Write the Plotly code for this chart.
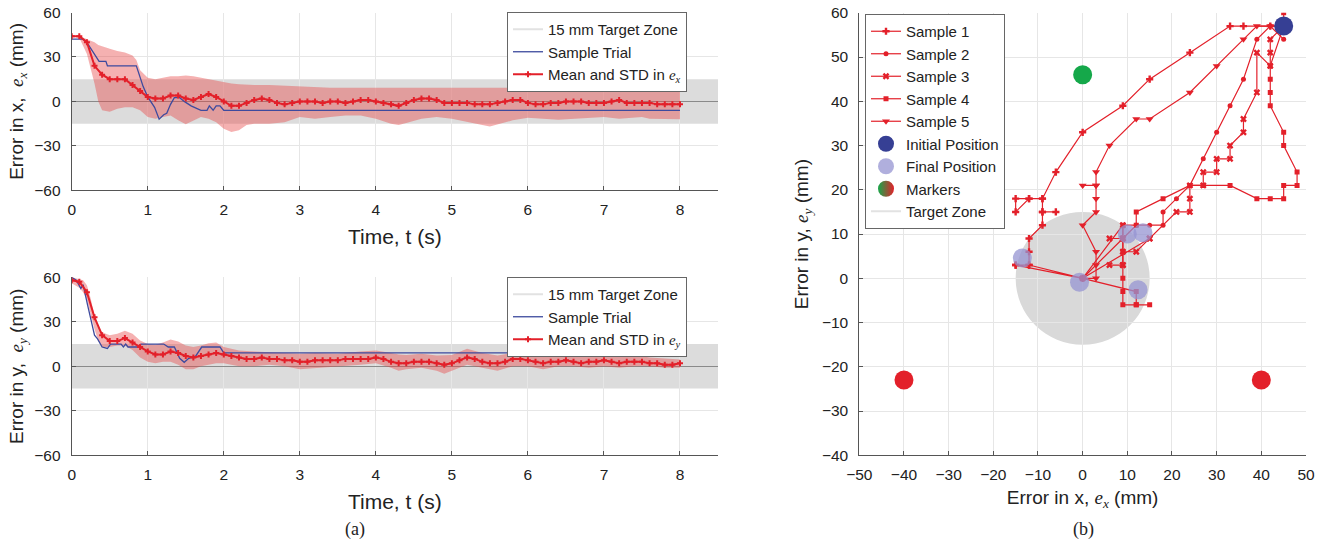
import plotly.graph_objects as go

W, H = 1334, 544

# ---------------- data: panel (a) ----------------
t_mean = [round(i * 0.1, 1) for i in range(81)]
mean_ex = [44, 44, 40, 24, 18, 15, 15, 15, 11, 7,
           3, 2, 2, 4, 4, 2, 1, 3, 5, 3,
           0, -3, -3, -1, 1, 2, 1, -1, -2, -1,
           0, 0, 0, -1, 0, 0, -1, 0, 1, 1,
           0, -1, -2, -3, -1, 1, 2, 2, 1, -1,
           -1, -1, -1, -2, -2, -2, -1, 0, 1, 1,
           -1, -2, -2, -1, -1, 0, 0, 0, -1, -1,
           -1, 0, 1, -1, -1, -1, -1, -2, -2, -2,
           -2]
mean_ey = [58, 57, 50, 33, 21, 17, 17, 19, 16, 13,
           10, 8, 8, 10, 9, 7, 6, 7, 8, 9,
           8, 7, 6, 5, 5, 6, 5, 5, 4, 4,
           3, 3, 4, 4, 4, 4, 5, 5, 5, 5,
           6, 5, 3, 2, 2, 3, 3, 3, 2, 1,
           2, 4, 6, 5, 3, 2, 2, 3, 5, 5,
           4, 3, 2, 3, 3, 4, 3, 2, 3, 3,
           4, 3, 2, 3, 3, 3, 2, 2, 1, 1,
           2]

t_band_x = [0, 0.1, 0.2, 0.3, 0.35, 0.4, 0.5, 0.6, 0.7, 0.8, 0.85, 0.9, 1.0, 1.1, 1.2, 1.3, 1.4,
            1.5, 1.6, 1.7, 1.8, 1.9, 2.0, 2.1, 2.2, 2.3, 2.4, 2.6, 2.8, 3.0, 3.2, 3.4, 3.6,
            3.8, 4.0, 4.2, 4.3, 4.4, 4.6, 4.8, 5.0, 5.2, 5.4, 5.5, 5.6, 5.8, 6.0, 6.2, 6.4,
            6.6, 6.8, 7.0, 7.2, 7.4, 7.5, 7.6, 7.8, 8.0]
upper_ex = [44, 44.5, 42, 40, 38, 37, 35.5, 34, 33, 31, 28, 21, 16, 15, 16, 17, 17,
            17.5, 17, 16, 14.6, 14, 13, 12, 11.5, 11.2, 11, 11, 10.5, 9.7, 9.5, 9.2, 9.2,
            9.2, 9.2, 9.5, 9.7, 9.7, 9.7, 9.5, 9.2, 9.2, 9.2, 9.2, 9.2, 9.2, 9.2, 9.5, 9.7,
            9.7, 9.7, 9.7, 9.5, 9.2, 9, 8, 7, 6.3]
lower_ex = [44, 43, 32, 12, 0, -6, -7, -5, -4, -4, -5, -6, -10.5, -11.7, -10.5, -9.5, -12.8,
            -15.5, -13, -10.5, -11.7, -14, -18.4, -20.7, -19.5, -16, -15, -15, -14, -10.5, -11.7, -10.5, -9.5,
            -9.5, -11.7, -15, -16, -14.6, -11.7, -10.5, -11.7, -14, -16, -17, -15.5, -12.8, -11, -11.7, -12.4,
            -11.7, -11, -10.5, -11.7, -11, -10.5, -11.7, -11.7, -12]

t_band_y = [0, 0.1, 0.15, 0.2, 0.25, 0.3, 0.35, 0.4, 0.5, 0.6, 0.7, 0.8, 0.9, 1.0, 1.1, 1.2, 1.3,
            1.4, 1.5, 1.6, 1.7, 1.8, 1.9, 2.0, 2.2, 2.4, 2.6, 2.8, 3.0, 3.2, 3.5, 3.8, 4.0,
            4.2, 4.3, 4.4, 4.6, 4.8, 4.9, 5.0, 5.2, 5.4, 5.6, 5.8, 6.0, 6.2, 6.4, 6.6, 6.8,
            7.0, 7.2, 7.4, 7.6, 7.8, 8.0]
upper_ey = [60, 59, 58, 54.7, 45.7, 34, 26.5, 23, 21, 22, 24, 22, 17.4, 15, 14.5, 16, 18,
            16.7, 14, 13, 14, 15.6, 16, 13, 10.6, 10, 9.5, 9, 8.4, 9, 8.4, 10, 10.6,
            9, 8, 7.7, 8.4, 7.2, 7.5, 7.7, 11.8, 9, 7.2, 9, 8.4, 7.2, 8, 8.4, 7.7,
            8.4, 6.8, 7.7, 6, 5, 4.5]
lower_ey = [56, 53, 50, 45, 35, 25, 17, 13, 13, 14, 14, 11, 6, 3, 2, 3, 3,
            1, -2, -2, 0, 1, 2, 2, 0, 0, 1, 0, -2, -1, 0, 1, 2,
            -1, -3, -2, -1, -3, -5, -3, 1, -1, -3, 0, 0, -2, 0, 0, -1,
            0, -1, 0, 0, -1, -1]

t_trial_x = [0, 0.15, 0.21, 0.3, 0.36, 0.45, 0.47, 0.85, 0.94, 1.0, 1.09, 1.15, 1.21, 1.25,
             1.3, 1.35, 1.42, 1.48, 1.57, 1.7, 1.78, 1.81, 1.86, 1.9, 1.95, 2.0, 8.0]
trial_ex = [42, 42, 39, 32, 27, 27, 24, 24, 10, 3, -4, -12, -9, -8,
            -2, 2.5, 2.5, 0, -3, -6, -6, -3, -6, -3, -3, -6, -6]
t_trial_y = [0, 0.06, 0.12, 0.15, 0.21, 0.27, 0.3, 0.34, 0.4, 0.47, 0.51, 0.65, 0.68, 0.71,
             0.74, 0.88, 0.91, 1.21, 1.27, 1.35, 1.42, 1.48, 1.54, 1.63, 1.66, 1.71, 1.95, 2.0, 8.0]
trial_ey = [60, 58, 52.5, 55, 41, 27.6, 21, 18.5, 13, 12, 15, 15, 13, 15,
            13, 13, 15, 15, 13, 13, 5.4, 2.7, 5.4, 6.8, 9.5, 13, 13, 9, 9]

time_ticks = [0, 1, 2, 3, 4, 5, 6, 7, 8]
err_ticks = [-60, -30, 0, 30, 60]

# ---------------- data: panel (b) ----------------
s1_x = [45, 42, 36, 33, 24, 15, 9, 0, -6, -9, -12, -15, -15, -12, -9, -9, -6, -9, -9, -12, -12, -12, -15, -12, 0, -15]
s1_y = [57, 57, 57, 57, 51, 45, 39, 33, 24, 18, 18, 18, 15, 18, 18, 15, 15, 15, 12, 9, 6, 3, 3, 3, 0, 3]
s2_x = [45, 42, 39, 36, 33, 30, 27, 24, 21, 18, 18, 15, 12, 9, 0, 12]
s2_y = [54, 57, 54, 45, 39, 33, 27, 21, 18, 15, 12, 12, 12, 9, 0, 12]
s3_x = [45, 42, 42, 42, 39, 39, 36, 36, 33, 33, 30, 30, 27, 27, 24, 24, 24, 21, 15, 12, 9, 9, 6, 9, 9, 6, 9, 9, 0, 15]
s3_y = [57, 54, 51, 48, 51, 42, 36, 33, 30, 27, 27, 24, 24, 21, 21, 18, 15, 15, 9, 6, 6, 3, 3, 3, 9, 9, 9, 12, 0, 9]
s4_x = [45, 45, 42, 42, 42, 42, 45, 45, 48, 48, 45, 45, 42, 39, 33, 27, 24, 18, 12, 12, 9, 9, 9, 9, 9, 9, 9, 12, 15, 12, 12, 0]
s4_y = [60, 57, 48, 45, 42, 39, 33, 30, 24, 21, 21, 18, 18, 18, 21, 21, 21, 18, 15, 12, 12, 9, 6, 3, 0, -3, -6, -6, -6, -6, -3, 0]
s5_x = [45, 42, 39, 36, 30, 24, 15, 12, 6, 3, 3, 0, 3, 3, 3, 0, 3, 3, 3, 0]
s5_y = [57, 57, 57, 54, 48, 42, 36, 36, 30, 24, 21, 21, 21, 18, 15, 12, 6, 3, 0, 0]

initial_x, initial_y = [45], [57]
final_x = [-13.5, -0.7, 10, 13.5, 12.4]
final_y = [4.6, -0.9, 10, 10.3, -2.6]
green_x, green_y = [0], [46]
red_x, red_y = [-40, 40], [-23, -23]
zone_radius = 15
zone_halfwidth = 15

# ---------------- styling ----------------
RED = "#e3202a"
BLUE = "#3d4a9e"
SERIF = "Liberation Serif, Times New Roman, serif"
SANS = "Liberation Sans, Arial, Helvetica, sans-serif"


def ex(sub):
    return f"<span style='font-family:{SERIF}'><i>e<sub>{sub}</sub></i></span>"


def fx(p):
    return p / W


def fy(p):
    return 1 - p / H


fig = go.Figure()

# ---- top-left (e_x) ----
fig.add_trace(go.Scatter(x=[None], y=[None], mode="lines", line=dict(color="#e2e2e2", width=2),
                         name="15 mm Target Zone", legend="legend", xaxis="x", yaxis="y"))
fig.add_trace(go.Scatter(x=t_band_x + t_band_x[::-1], y=upper_ex + lower_ex[::-1], fill="toself",
                         fillcolor="rgba(230,70,70,0.42)", line=dict(width=0), mode="lines",
                         showlegend=False, hoverinfo="skip", xaxis="x", yaxis="y"))
fig.add_trace(go.Scatter(x=t_trial_x, y=trial_ex, mode="lines", line=dict(color=BLUE, width=1.3),
                         name="Sample Trial", legend="legend", xaxis="x", yaxis="y"))
fig.add_trace(go.Scatter(x=t_mean, y=mean_ex, mode="lines+markers", line=dict(color=RED, width=2),
                         marker=dict(symbol="cross", size=5, color=RED),
                         name="Mean and STD in " + ex("x"), legend="legend", xaxis="x", yaxis="y"))

# ---- bottom-left (e_y) ----
fig.add_trace(go.Scatter(x=[None], y=[None], mode="lines", line=dict(color="#e2e2e2", width=2),
                         name="15 mm Target Zone", legend="legend2", xaxis="x2", yaxis="y2"))
fig.add_trace(go.Scatter(x=t_band_y + t_band_y[::-1], y=upper_ey + lower_ey[::-1], fill="toself",
                         fillcolor="rgba(230,70,70,0.42)", line=dict(width=0), mode="lines",
                         showlegend=False, hoverinfo="skip", xaxis="x2", yaxis="y2"))
fig.add_trace(go.Scatter(x=t_trial_y, y=trial_ey, mode="lines", line=dict(color=BLUE, width=1.3),
                         name="Sample Trial", legend="legend2", xaxis="x2", yaxis="y2"))
fig.add_trace(go.Scatter(x=t_mean, y=mean_ey, mode="lines+markers", line=dict(color=RED, width=2),
                         marker=dict(symbol="cross", size=5, color=RED),
                         name="Mean and STD in " + ex("y"), legend="legend2", xaxis="x2", yaxis="y2"))

# ---- right (trajectories) ----
samples = [(s1_x, s1_y, "cross", 6, "Sample 1"),
           (s2_x, s2_y, "circle", 5, "Sample 2"),
           (s3_x, s3_y, "x", 6, "Sample 3"),
           (s4_x, s4_y, "square", 5, "Sample 4"),
           (s5_x, s5_y, "triangle-down", 7, "Sample 5")]
for sx, sy, sym, sz, nm in samples:
    fig.add_trace(go.Scatter(x=sx, y=sy, mode="lines+markers", line=dict(color=RED, width=1.2),
                             marker=dict(symbol=sym, size=sz, color=RED),
                             name=nm, legend="legend3", xaxis="x3", yaxis="y3"))
fig.add_trace(go.Scatter(x=initial_x, y=initial_y, mode="markers",
                         marker=dict(size=19, color="#363f94"),
                         name="Initial Position", legend="legend3", xaxis="x3", yaxis="y3"))
fig.add_trace(go.Scatter(x=final_x, y=final_y, mode="markers",
                         marker=dict(size=19, color="rgba(150,148,210,0.75)"),
                         name="Final Position", legend="legend3", xaxis="x3", yaxis="y3"))
fig.add_trace(go.Scatter(x=green_x, y=green_y, mode="markers", marker=dict(size=19, color="#15a84a"),
                         showlegend=False, xaxis="x3", yaxis="y3"))
fig.add_trace(go.Scatter(x=red_x, y=red_y, mode="markers", marker=dict(size=19, color="#e3202a"),
                         showlegend=False, xaxis="x3", yaxis="y3"))
fig.add_trace(go.Scatter(x=[None], y=[None], mode="markers",
                         marker=dict(size=16, color="#15a84a",
                                     gradient=dict(type="horizontal", color="#e3202a")),
                         name="Markers", legend="legend3", xaxis="x3", yaxis="y3"))
fig.add_trace(go.Scatter(x=[None], y=[None], mode="lines", line=dict(color="#e2e2e2", width=2),
                         name="Target Zone", legend="legend3", xaxis="x3", yaxis="y3"))

# ---- shapes ----
shapes = []
for xr, yr in (("x", "y"), ("x2", "y2")):
    shapes.append(dict(type="rect", xref=xr, yref=yr, x0=0, x1=8.5, y0=-zone_halfwidth, y1=zone_halfwidth,
                       fillcolor="#dcdcdc", line=dict(width=0), layer="below"))
shapes.append(dict(type="circle", xref="x3", yref="y3", x0=-zone_radius, x1=zone_radius,
                   y0=-zone_radius, y1=zone_radius, fillcolor="#d9d9d9", line=dict(width=0), layer="below"))

axis_common = dict(showgrid=True, gridcolor="#e6e6e6", gridwidth=1, showline=True, linecolor="#555",
                   linewidth=1, ticks="inside", ticklen=4, tickcolor="#555", mirror=False,
                   automargin=False, ticklabeloverflow="allow",
                   tickfont=dict(size=15.5, color="#222", family=SANS))
xcommon = dict(axis_common, ticklabelstandoff=5)
ycommon = dict(axis_common, ticklabelstandoff=7)

legend_common = dict(bgcolor="white", bordercolor="#666", borderwidth=1, xanchor="left", yanchor="top",
                     font=dict(size=15, color="#222", family=SANS), tracegroupgap=0, itemsizing="trace")

top_a, bot_a = 12.5, 190.3
top_b, bot_b = 277.3, 455.3
left_a, right_a = 71.7, 718
left_r, right_r = 859.3, 1306
top_r, bot_r = 12.8, 455.3

fig.update_layout(
    width=W, height=H, margin=dict(l=0, r=0, t=0, b=0),
    paper_bgcolor="white", plot_bgcolor="white",
    font=dict(family=SANS, size=14, color="#222"),
    shapes=shapes,
    xaxis=dict(xcommon, domain=[fx(left_a), fx(right_a)], range=[0, 8.5], tickvals=time_ticks, anchor="y",
               zeroline=False,
               title=dict(text="Time, t (s)", font=dict(size=21), standoff=12)),
    yaxis=dict(ycommon, domain=[fy(bot_a), fy(top_a)], range=[-60, 60], tickvals=err_ticks, anchor="x",
               zeroline=True, zerolinecolor="#8a8a8a", zerolinewidth=1,
               title=dict(text="Error in x,  " + ex("x") + " (mm)", font=dict(size=19), standoff=5)),
    xaxis2=dict(xcommon, domain=[fx(left_a), fx(right_a)], range=[0, 8.5], tickvals=time_ticks, anchor="y2",
                zeroline=False,
                title=dict(text="Time, t (s)", font=dict(size=21), standoff=12)),
    yaxis2=dict(ycommon, domain=[fy(bot_b), fy(top_b)], range=[-60, 60], tickvals=err_ticks, anchor="x2",
                zeroline=True, zerolinecolor="#8a8a8a", zerolinewidth=1,
                title=dict(text="Error in y,  " + ex("y") + " (mm)", font=dict(size=19), standoff=5)),
    xaxis3=dict(xcommon, domain=[fx(left_r), fx(right_r)], range=[-50, 50], dtick=10, anchor="y3",
                zeroline=False,
                title=dict(text="Error in x, " + ex("x") + " (mm)", font=dict(size=19), standoff=8)),
    yaxis3=dict(ycommon, domain=[fy(bot_r), fy(top_r)], range=[-40, 60], dtick=10, anchor="x3",
                zeroline=False,
                title=dict(text="Error in y, " + ex("y") + " (mm)", font=dict(size=19), standoff=8)),
    legend=dict(legend_common, x=fx(507), y=fy(12)),
    legend2=dict(legend_common, x=fx(507), y=fy(277)),
    legend3=dict(legend_common, x=fx(865), y=fy(14)),
    annotations=[
        dict(text="(a)", x=fx(355), y=fy(529), xref="paper", yref="paper", showarrow=False,
             xanchor="center", yanchor="middle",
             font=dict(family=SERIF, size=18, color="#222")),
        dict(text="(b)", x=fx(1083), y=fy(529), xref="paper", yref="paper", showarrow=False,
             xanchor="center", yanchor="middle",
             font=dict(family=SERIF, size=18, color="#222")),
    ],
)

# remove the browser's default 8 px page margin so the figure starts at the window corner
fig.write_html("out.html", config={"displayModeBar": False},
               post_script="document.body.style.margin='0px';")
